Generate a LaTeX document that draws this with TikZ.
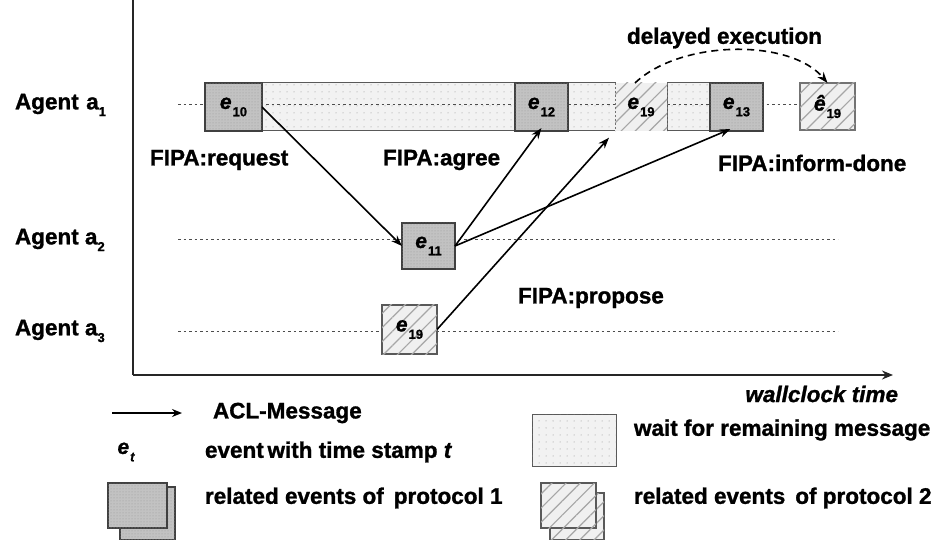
\documentclass[tikz,border=0pt]{standalone}
\usepackage{fontspec}
\setmainfont{Liberation Sans}[BoldFeatures={FakeBold=1.2},BoldItalicFeatures={FakeBold=1.2}]
\usetikzlibrary{arrows.meta,patterns.meta,calc}

% event label e with a time stamp subscript
\newcommand{\evt}[1]{\textit{e}\kern1pt\raisebox{-0.35em}{\fontsize{13}{13}\selectfont #1}}
\newcommand{\evthat}[1]{\textit{\^{e}}\kern1pt\raisebox{-0.35em}{\fontsize{13}{13}\selectfont #1}}
% agent index
\newcommand{\agidx}[1]{\raisebox{-0.3em}{\fontsize{13}{13}\selectfont #1}}

\begin{document}
\begin{tikzpicture}[x=1pt,y=-1pt,
  font=\fontsize{22.5}{26}\selectfont\bfseries,
  every node/.style={inner sep=0pt, outer sep=0pt},
  axisline/.style={line width=2pt, draw=black!85},
  lifeline/.style={draw=black!70, line width=1pt, dash pattern=on 2.5pt off 3pt},
  msg/.style={line width=1.6pt, -{Stealth[length=11pt,width=8pt]}},
  evbox/.style={draw=black!75, line width=1.6pt, fill=black!24,
    postaction={pattern={Dots[distance=3pt,radius=0.5pt]}, pattern color=black!40},
    minimum height=48pt, font=\fontsize{21}{21}\selectfont\bfseries},
  waitbox/.style={draw=black!65, line width=1pt, fill=black!5,
    postaction={pattern={Dots[distance=7pt,radius=0.5pt]}, pattern color=black!45},
    minimum height=48pt},
  hatchbox/.style={fill=black!6,
    postaction={pattern={Lines[angle=45,distance=10pt,line width=1.2pt]}, pattern color=black!35},
    minimum height=48pt, font=\fontsize{21}{21}\selectfont\bfseries},
  lbl/.style={anchor=west, font=\fontsize{22.5}{26}\selectfont\bfseries},
]
\useasboundingbox (0,0) rectangle (943,540);

% axes
\coordinate (ytop) at (133,0);
\coordinate (origin) at (133,375);
\coordinate (xend) at (893,375);
\draw[axisline] (ytop) -- (origin);
\draw[axisline, -{Stealth[length=11pt,width=9pt]}] (origin) -- (xend);
\node[anchor=east, font=\fontsize{22.5}{26}\selectfont\bfseries\itshape] (wct) at (898,394) {wallclock time};

% agent labels and lifelines
\node[lbl] (ag1) at (15,105) {Agent\,\,a\agidx{1}};
\node[lbl] (ag2) at (15,240) {Agent a\agidx{2}};
\node[lbl] (ag3) at (15,331) {Agent a\agidx{3}};
\coordinate (l1s) at (178,105);
\coordinate (l1e) at (800,105);
\coordinate (l2s) at (178,240);
\coordinate (l2e) at (838,240);
\coordinate (l3s) at (178,331);
\coordinate (l3e) at (838,331);
\draw[lifeline] (l2s) -- (l2e);
\draw[lifeline] (l3s) -- (l3e);

% agent a1: events and waiting periods
\node[waitbox, minimum width=253pt] (w1) at (388.5,107) {};
\node[waitbox, minimum width=47pt] (w2) at (591.5,107) {};
\node[waitbox, minimum width=43pt] (w3) at (688.5,107) {};
\draw[lifeline] (l1s) -- (l1e);
\node[evbox, minimum width=57pt] (e10) at (233.5,107) {\evt{10}};
\node[evbox, minimum width=53pt] (e12) at (541.5,107) {\evt{12}};
\node[hatchbox, minimum width=52pt] (e19a) at (641,107) {\evt{19}};
\draw[black!55, line width=0.8pt, dash pattern=on 2pt off 2pt]
  (e19a.north west) -- (e19a.south west) (e19a.north east) -- (e19a.south east);
\node[evbox, minimum width=53pt] (e13) at (736.5,107) {\evt{13}};
\node[hatchbox, draw=black!55, line width=1.2pt, minimum width=55pt, minimum height=47pt] (e19b) at (827.5,106.5) {\evthat{19}};

% agent a2 and a3 events
\node[evbox, minimum width=53pt, minimum height=46pt] (e11) at (428.5,246) {\evt{11}};
\node[hatchbox, draw=black!65, line width=1.2pt, minimum width=55pt, minimum height=49pt] (e19c) at (409.5,329.5) {\evt{19}};

% messages
\draw[msg] (e10.east) -- (e11.west);
\draw[msg] (e11.east) -- ([yshift=3pt]e12.south);
\draw[msg] (e11.east) -- ([xshift=-6pt,yshift=2pt]e13.south);
\draw[msg, shorten >=9pt] (e19c.east) -- (e19a.south west);

% delayed execution
\draw[line width=1.6pt, dash pattern=on 7pt off 5pt, -{Stealth[length=11pt,width=8pt]}]
  ([xshift=-6pt]e19a.north) .. controls (680,40) and (790,38) .. (e19b.north);
\node[lbl] (delay) at (627,38) {delayed execution};

% message labels
\node[lbl] (req) at (150,160) {FIPA:request};
\node[lbl] (agr) at (383,160) {FIPA:agree};
\node[lbl] (inf) at (718,163) {FIPA:inform-done};
\node[lbl] (prop) at (518,298) {FIPA:propose};

% legend
\coordinate (la1) at (112,413);
\coordinate (la2) at (182,413);
\draw[line width=1.4pt, -{Stealth[length=10pt,width=8pt]}] (la1) -- (la2);
\node[lbl] (lacl) at (213,413) {ACL-Message};
\node (let) at (126,452) {\fontsize{21}{21}\selectfont\textit{e}\kern1pt\raisebox{-0.35em}{\fontsize{13}{13}\selectfont\itshape t}};
\node[lbl] (levt) at (205,452) {event\,with time stamp \textit{t}};

\node[waitbox, minimum width=84pt, minimum height=52pt] (lw) at (574,440) {};
\node[lbl] (lwt) at (634,430) {wait for remaining message};

\node[evbox, minimum width=55pt, minimum height=53pt] (lp1b) at (147.5,513.5) {};
\node[evbox, minimum width=59pt, minimum height=45pt] (lp1a) at (137.5,505.5) {};
\node[lbl] (lp1t) at (205,498) {related events of \,protocol 1};

\node[hatchbox, draw=black!65, line width=1.2pt, minimum width=54pt, minimum height=47pt] (lp2b) at (577,516.5) {};
\node[hatchbox, draw=black!65, line width=1.2pt, minimum width=55pt, minimum height=45pt] (lp2a) at (568.5,505.5) {};
\node[lbl] (lp2t) at (634,498) {related events \,of protocol 2};
\end{tikzpicture}
\end{document}
